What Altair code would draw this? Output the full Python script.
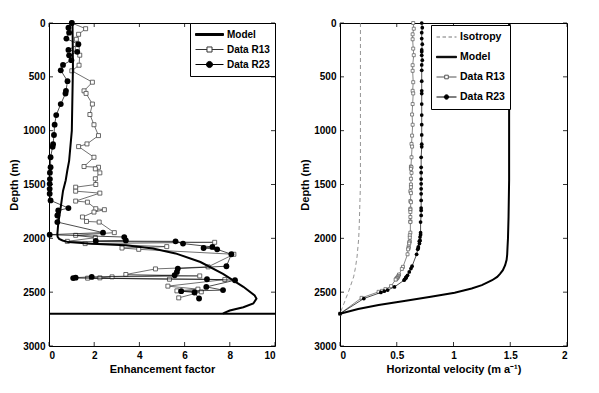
import altair as alt
import pandas as pd

FONT = "Liberation Sans"

# ---------------- data ----------------
BED_DEPTH = 2700
DEPTH_TICKS = [0, 500, 1000, 1500, 2000, 2500, 3000]
E_TICKS = [0, 2, 4, 6, 8, 10]
V_TICKS = [0, 0.5, 1, 1.5, 2]

# Enhancement factor, Data R23
r23_depth = [0, 43, 90, 145, 197, 250, 268, 300, 345, 389,
             440, 540, 630, 655, 753, 855, 944, 1040, 1125, 1150,
             1247, 1340, 1390, 1450, 1494, 1540, 1586, 1648, 1719, 1741,
             1787, 1849, 1947, 1966, 1988, 2019, 2025, 2028, 2049, 2080,
             2090, 2102, 2148, 2259, 2281, 2312, 2343, 2358, 2365, 2369,
             2380, 2389, 2451, 2481, 2491, 2503, 2559]
r23_E = [1.01, 0.86, 0.89, 0.77, 1.30, 0.86, 1.25, 0.89, 0.99, 0.62,
         0.52, 0.82, 0.75, 0.73, 0.52, 0.32, 0.25, 0.22, 0.18, 0.16,
         0.07, 0.07, 0.04, 0.04, 0.03, 0.03, 0.03, 0.07, 0.86, 0.41,
         0.37, 0.37, 2.39, 0.03, 3.33, 3.40, 2.07, 5.60, 5.93, 7.23,
         6.84, 7.44, 8.07, 7.85, 5.70, 5.66, 5.56, 1.89, 1.18, 1.07,
         6.99, 8.23, 6.96, 7.70, 5.85, 6.44, 6.64]

# Enhancement factor, Data R13
r13_depth = [0, 53, 105, 151, 238, 299, 392, 444, 550, 630,
             654, 753, 850, 945, 1046, 1123, 1148, 1247, 1333, 1340,
             1355, 1392, 1447, 1500, 1525, 1562, 1580, 1654, 1664, 1725,
             1734, 1756, 1802, 1843, 1849, 1947, 1972, 1994, 2028, 2037,
             2049, 2077, 2090, 2102, 2148, 2265, 2284, 2336, 2349, 2358,
             2367, 2370, 2380, 2383, 2444, 2472, 2488, 2497, 2553]
r13_E = [1.01, 1.62, 1.31, 1.21, 1.25, 1.36, 1.33, 1.01, 1.92, 1.55,
         1.64, 1.92, 1.81, 1.99, 2.19, 1.68, 1.31, 1.99, 1.55, 2.19,
         2.05, 2.25, 2.05, 2.07, 1.18, 1.18, 2.25, 1.18, 1.70, 2.07,
         2.45, 1.99, 1.48, 1.66, 2.22, 2.89, 1.18, 2.05, 0.81, 7.33,
         1.60, 5.21, 3.23, 3.97, 8.18, 7.04, 4.71, 3.40, 6.67, 2.79,
         2.25, 1.71, 5.33, 7.78, 5.26, 6.59, 5.66, 6.74, 5.74]

# Model enhancement factor
model_E_depth = [0, 400, 1000, 1280, 1370, 1460, 1560, 1710, 1860, 1960,
                 1985, 2005, 2020, 2035, 2050, 2065, 2095, 2140, 2220, 2330,
                 2450, 2530, 2560, 2605, 2640, 2670, 2690, 2700]
model_E = [1.04, 1.06, 1.01, 0.89, 0.81, 0.74, 0.62, 0.52, 0.41, 0.37,
           0.38, 0.45, 0.60, 0.85, 1.90, 3.40, 4.60, 5.60, 6.70, 7.70,
           8.60, 9.10, 9.18, 9.04, 8.60, 8.00, 7.78, 7.70]

# Horizontal velocity (same depths as the data, plus the bed)
r23_v_depth = r23_depth + [BED_DEPTH]
r23_v = [0.72, 0.725, 0.72, 0.72, 0.725, 0.72, 0.72, 0.72, 0.725, 0.72,
         0.72, 0.72, 0.72, 0.72, 0.72, 0.72, 0.72, 0.72, 0.72, 0.72,
         0.715, 0.715, 0.715, 0.715, 0.715, 0.715, 0.715, 0.715, 0.715, 0.715,
         0.715, 0.71, 0.71, 0.71, 0.705, 0.705, 0.70, 0.70, 0.70, 0.69,
         0.69, 0.685, 0.675, 0.635, 0.625, 0.61, 0.595, 0.585, 0.58, 0.58,
         0.57, 0.565, 0.48, 0.42, 0.39, 0.36, 0.21, 0.0]
r13_v_depth = r13_depth + [BED_DEPTH]
r13_v = [0.645, 0.65, 0.64, 0.64, 0.645, 0.65, 0.64, 0.64, 0.645, 0.64,
         0.645, 0.64, 0.635, 0.64, 0.635, 0.63, 0.635, 0.63, 0.625, 0.63,
         0.625, 0.63, 0.625, 0.625, 0.625, 0.62, 0.625, 0.62, 0.625, 0.62,
         0.62, 0.62, 0.62, 0.62, 0.62, 0.62, 0.615, 0.615, 0.615, 0.61,
         0.61, 0.605, 0.605, 0.60, 0.595, 0.555, 0.545, 0.52, 0.515, 0.51,
         0.505, 0.50, 0.495, 0.49, 0.45, 0.40, 0.37, 0.34, 0.19, 0.0]

model_v_depth = [0, 1000, 1460, 1800, 2000, 2080, 2150, 2200, 2250, 2296,
                 2330, 2358, 2389, 2410, 2435, 2466, 2506, 2543, 2580, 2620,
                 2657, 2700]
model_v = [1.49, 1.49, 1.49, 1.485, 1.48, 1.476, 1.473, 1.468, 1.455, 1.435,
           1.41, 1.385, 1.34, 1.30, 1.25, 1.16, 1.01, 0.80, 0.58, 0.34,
           0.16, 0.0]

iso_depth = [0, 1500, 1864, 2000, 2173, 2280, 2358, 2481, 2550, 2605, 2650, 2700]
iso_v = [0.18, 0.18, 0.17, 0.165, 0.15, 0.135, 0.12, 0.08, 0.055, 0.035, 0.018, 0.0]

# ---------------- helpers ----------------
W1, W2, H = 226, 227, 323
TICK = 4

Y = alt.Y("depth:Q",
          scale=alt.Scale(domain=[0, 3000], reverse=True, nice=False, zero=False),
          axis=alt.Axis(values=DEPTH_TICKS, title="Depth (m)", format="d"))


def make_x(dom, vals, title, fmt):
    return alt.X("x:Q", scale=alt.Scale(domain=dom, nice=False, zero=False),
                 axis=alt.Axis(values=vals, title=title, format=fmt))


def sdf(depths, xs):
    return pd.DataFrame({"depth": depths, "x": xs, "idx": list(range(len(depths)))})


def line(df, X, **kw):
    return alt.Chart(df).mark_line(**kw).encode(x=X, y=Y, order="idx:Q")


def pts(df, X, **kw):
    return alt.Chart(df).mark_point(**kw).encode(x=X, y=Y)


def ticks(X, xvals, W):
    ydf = pd.DataFrame({"depth": DEPTH_TICKS})
    xdf = pd.DataFrame({"x": xvals})
    st = dict(color="black", strokeWidth=0.8)
    return [
        alt.Chart(ydf).mark_rule(**st).encode(y=Y, x=alt.value(0), x2=alt.value(TICK)),
        alt.Chart(ydf).mark_rule(**st).encode(y=Y, x=alt.value(W - TICK), x2=alt.value(W)),
        alt.Chart(xdf).mark_rule(**st).encode(x=X, y=alt.value(H - TICK), y2=alt.value(H)),
        alt.Chart(xdf).mark_rule(**st).encode(x=X, y=alt.value(0), y2=alt.value(TICK)),
    ]


def legend_layer(names, shapes, fills, strokes, X, legend):
    df = pd.DataFrame({"series": names, "x": [0] * len(names), "depth": [0] * len(names)})

    def sc(rng):
        return alt.Scale(domain=names, range=rng)
    return alt.Chart(df).mark_point(opacity=0, filled=True).encode(
        x=X, y=Y,
        shape=alt.Shape("series:N", scale=sc(shapes), legend=legend),
        fill=alt.Fill("series:N", scale=sc(fills), legend=legend),
        stroke=alt.Stroke("series:N", scale=sc(strokes), legend=legend),
    )


# legend symbol paths (unit square -1..1)
P_THICK = "M-1,-0.07L1,-0.07L1,0.07L-1,0.07Z"
P_SQUARE = "M-1,0L-0.18,0M0.18,0L1,0M-0.18,-0.18L0.18,-0.18L0.18,0.18L-0.18,0.18Z"
P_DOT = "M-1,0L1,0M0.22,0A0.22,0.22,0,1,1,-0.22,0A0.22,0.22,0,1,1,0.22,0Z"
P_DASH = "M-1,0L-0.65,0M-0.4,0L-0.05,0M0.2,0L0.55,0M0.8,0L1,0"

# ---------------- left panel ----------------
XL = make_x([0, 10], E_TICKS, "Enhancement factor", "d")
r13L = sdf(r13_depth, r13_E)
r23L = sdf(r23_depth, r23_E)
modL = sdf(model_E_depth, model_E)
bed = pd.DataFrame({"depth": [BED_DEPTH]})

legL = alt.Legend(title=None, orient="top-right", offset=0, strokeColor="black",
                  fillColor="white", padding=5, labelFont=FONT, labelFontWeight="bold",
                  labelFontSize=10, labelColor="black", symbolSize=784, symbolStrokeWidth=1,
                  symbolOpacity=1, rowPadding=2, clipHeight=13, labelOffset=3,
                  cornerRadius=0, labelExpr="datum.label + '\u2003'")

left = alt.layer(
    line(r13L, XL, color="#333333", strokeWidth=0.7),
    pts(r13L, XL, shape="square", size=16, color="#444444", fill="white", filled=False,
        strokeWidth=0.8, opacity=1),
    line(r23L, XL, color="black", strokeWidth=0.7),
    pts(r23L, XL, shape="circle", size=34, color="black", filled=True, opacity=1),
    line(modL, XL, color="black", strokeWidth=2),
    alt.Chart(bed).mark_rule(color="black", strokeWidth=2).encode(y=Y),
    *ticks(XL, E_TICKS, W1),
    legend_layer(["Model", "Data R13", "Data R23"], [P_THICK, P_SQUARE, P_DOT],
                 ["black", "white", "black"], ["black", "#333333", "black"], XL, legL),
).properties(width=W1, height=H)

# ---------------- right panel ----------------
XR = make_x([0, 2], V_TICKS, "Horizontal velocity (m a\u207b\u00b9)", ".1~f")
r13R = sdf(r13_v_depth, r13_v)
r23R = sdf(r23_v_depth, r23_v)
modR = sdf(model_v_depth, model_v)
isoR = sdf(iso_depth, iso_v)

legR = alt.Legend(title=None, orient="none", legendX=91, legendY=2, strokeColor="black",
                  fillColor="white", padding=5, labelFont=FONT, labelFontWeight="bold",
                  labelFontSize=10.5, labelColor="black", symbolSize=400, symbolStrokeWidth=1,
                  symbolOpacity=1, rowPadding=6, clipHeight=14, labelOffset=3,
                  cornerRadius=0,
                  labelExpr="datum.label + '\u2003\u2003\u2003\u2003\u2003\u2003\u2003'")

right = alt.layer(
    line(isoR, XR, color="#777777", strokeWidth=0.8, strokeDash=[4, 3]),
    line(r13R, XR, color="#555555", strokeWidth=0.7),
    pts(r13R, XR, shape="square", size=9, color="#555555", fill="white", filled=False,
        strokeWidth=0.7, opacity=1),
    line(r23R, XR, color="black", strokeWidth=0.7),
    pts(r23R, XR, shape="circle", size=14, color="black", filled=True, opacity=1),
    line(modR, XR, color="black", strokeWidth=2),
    *ticks(XR, V_TICKS, W2),
    legend_layer(["Isotropy", "Model", "Data R13", "Data R23"],
                 [P_DASH, P_THICK, P_SQUARE, P_DOT],
                 ["white", "black", "white", "black"],
                 ["#777777", "black", "#555555", "black"], XR, legR),
).properties(width=W2, height=H)

chart = alt.hconcat(left, right, spacing=22).resolve_scale(
    shape="independent", fill="independent", stroke="independent"
).resolve_legend(
    shape="independent", fill="independent", stroke="independent"
).configure_axis(
    labelFont=FONT, labelFontWeight="bold", labelFontSize=10, labelColor="black",
    titleFont=FONT, titleFontWeight="bold", titleFontSize=11, titleColor="black",
    domain=False, ticks=False, grid=False, labelPadding=4, titlePadding=3,
).configure_view(
    stroke="black", strokeWidth=1
).properties(
    padding={"left": 0, "top": 9, "right": 5, "bottom": 5}, background="white"
)

chart.save("out.html", embed_options={"renderer": "svg", "actions": False})
